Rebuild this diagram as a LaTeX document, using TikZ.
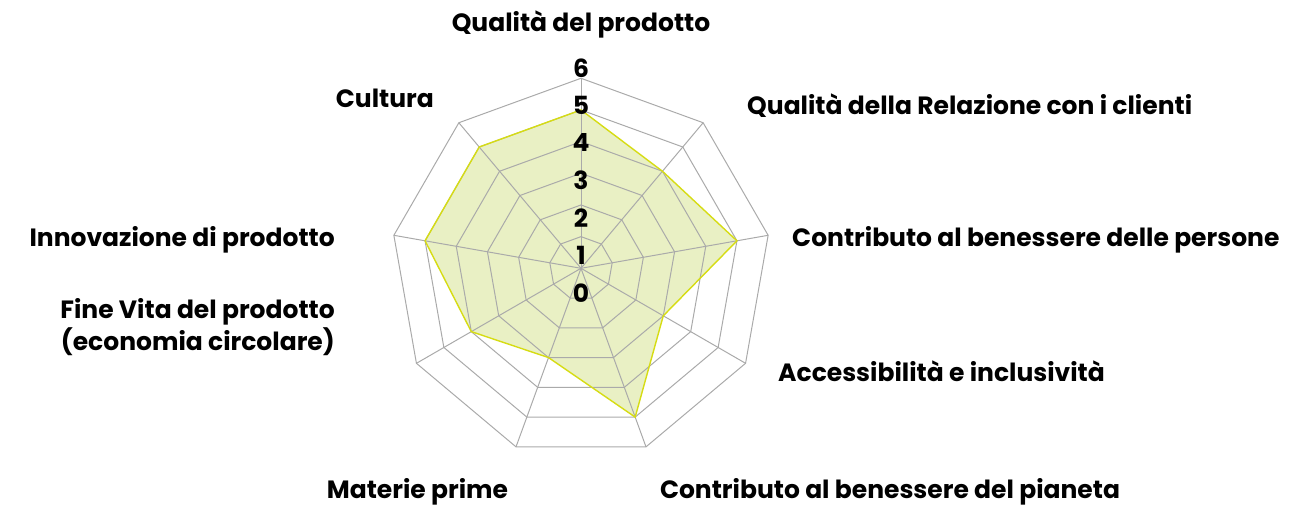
\documentclass[tikz,border=0pt]{standalone}
\usepackage{fontspec}
\setmainfont{Poppins}
\definecolor{gridgray}{RGB}{170,170,170}
\definecolor{dataline}{RGB}{214,220,20}
\definecolor{datafill}{RGB}{233,240,196}
\tikzset{
  gridline/.style={gridgray,line width=1pt},
  datapoly/.style={dataline,line width=1.4pt,line join=miter},
  axislabel/.style={font=\fontsize{25}{32}\selectfont\bfseries,inner sep=0pt},
  ticklabel/.style={font=\fontsize{25}{28}\selectfont\bfseries,inner sep=0pt}
}
\begin{document}
\begin{tikzpicture}[x=1pt,y=1pt]
  \def\unit{31.67}
  \useasboundingbox (0,0) rectangle (1294,509);

  \begin{scope}[shift={(581,240.7)}]
    \coordinate (center) at (0,0);
    % values, clockwise from the top axis
    \foreach \v [count=\i from 0] in {5,4,5,3,5,3,4,5,5}
      \coordinate (d\i) at ({90-40*\i}:{\v*\unit});

    \fill[datafill] (d0) -- (d1) -- (d2) -- (d3) -- (d4) -- (d5) -- (d6) -- (d7) -- (d8) -- cycle;

    \foreach \r in {1,...,6}
      \draw[gridline] (90:{\r*\unit}) \foreach \k in {1,...,8} { -- ({90-40*\k}:{\r*\unit}) } -- cycle;
    \foreach \k in {0,...,8}
      \draw[gridline] (center) -- ({90-40*\k}:{6*\unit});

    \draw[datapoly] (d0) -- (d1) -- (d2) -- (d3) -- (d4) -- (d5) -- (d6) -- (d7) -- (d8) -- cycle;

    \foreach \n in {0,...,6}
      \node[ticklabel] (tick\n) at (0,{-24.7+37.5*\n}) {\n};
  \end{scope}

  \node[axislabel,anchor=base] (lblprodotto) at (581,477) {Qualità del prodotto};
  \node[axislabel,anchor=base west] (lblclienti) at (747,394) {Qualità della Relazione con i clienti};
  \node[axislabel,anchor=base west] (lblpersone) at (792,262) {Contributo al benessere delle persone};
  \node[axislabel,anchor=base west] (lblaccesso) at (778,127) {Accessibilità e inclusività};
  \node[axislabel,anchor=base] (lblpianeta) at (890,10) {Contributo al benessere del pianeta};
  \node[axislabel,anchor=base] (lblmaterie) at (417.5,10) {Materie prime};
  \node[axislabel,anchor=base east,align=right] (lblfinevita) at (335,158) {Fine Vita del prodotto\\(economia circolare)};
  \node[axislabel,anchor=base east] (lblinnovazione) at (335,262) {Innovazione di prodotto};
  \node[axislabel,anchor=base east] (lblcultura) at (434,401) {Cultura};
\end{tikzpicture}
\end{document}
